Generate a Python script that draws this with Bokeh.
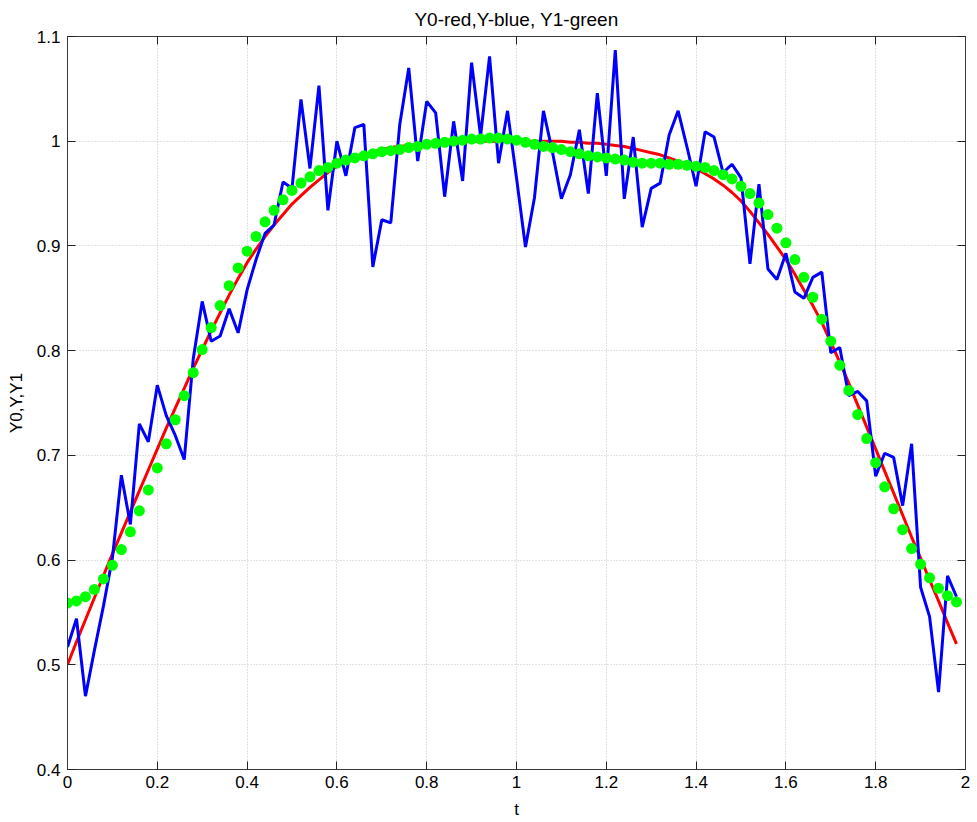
from bokeh.plotting import figure
from bokeh.models import Range1d, FixedTicker, LinearAxis
from bokeh.embed import file_html
from bokeh.resources import INLINE

t = [round(i * 0.02, 2) for i in range(100)]

Y0 = [0.500, 0.522, 0.543, 0.564, 0.585, 0.606, 0.626, 0.646, 0.666, 0.686,
      0.706, 0.726, 0.745, 0.764, 0.783, 0.801, 0.819, 0.836, 0.853, 0.869,
      0.884, 0.897, 0.909, 0.920, 0.930, 0.940, 0.948, 0.956, 0.963, 0.970,
      0.976, 0.980, 0.984, 0.987, 0.990, 0.992, 0.994, 0.995, 0.996, 0.997,
      0.998, 0.998, 0.999, 0.999, 0.999, 1.000, 1.000, 1.000, 1.000, 1.000,
      1.000, 1.000, 1.000, 1.000, 1.000, 1.000, 0.999, 0.999, 0.998, 0.998,
      0.997, 0.996, 0.995, 0.993, 0.991, 0.989, 0.987, 0.984, 0.981, 0.978,
      0.974, 0.969, 0.964, 0.958, 0.951, 0.943, 0.933, 0.922, 0.911, 0.899,
      0.887, 0.873, 0.858, 0.843, 0.827, 0.808, 0.789, 0.769, 0.748, 0.727,
      0.706, 0.685, 0.664, 0.643, 0.622, 0.602, 0.581, 0.561, 0.540, 0.520]

Y = [0.517, 0.544, 0.470, 0.514, 0.556, 0.602, 0.681, 0.634, 0.730, 0.713,
     0.767, 0.738, 0.719, 0.696, 0.792, 0.847, 0.809, 0.814, 0.840, 0.817,
     0.858, 0.887, 0.912, 0.920, 0.961, 0.955, 1.040, 0.974, 1.053, 0.934,
     1.000, 0.967, 1.013, 1.016, 0.880, 0.925, 0.922, 1.016, 1.070, 0.981,
     1.038, 1.027, 0.947, 1.019, 0.962, 1.075, 1.005, 1.081, 0.979, 1.029,
     0.965, 0.899, 0.946, 1.029, 0.990, 0.945, 0.968, 1.011, 0.950, 1.046,
     0.967, 1.087, 0.945, 1.004, 0.918, 0.955, 0.960, 1.006, 1.029, 0.994,
     0.957, 1.009, 1.004, 0.970, 0.978, 0.965, 0.883, 0.959, 0.878, 0.868,
     0.893, 0.856, 0.850, 0.870, 0.875, 0.798, 0.803, 0.757, 0.761, 0.752,
     0.680, 0.702, 0.698, 0.652, 0.711, 0.574, 0.546, 0.474, 0.585, 0.565]

Y1 = [0.559, 0.561, 0.565, 0.572, 0.582, 0.595, 0.610, 0.627, 0.647, 0.667,
      0.688, 0.711, 0.734, 0.757, 0.779, 0.801, 0.822, 0.843, 0.862, 0.879,
      0.895, 0.909, 0.923, 0.934, 0.944, 0.953, 0.960, 0.966, 0.972, 0.975,
      0.979, 0.982, 0.984, 0.986, 0.988, 0.990, 0.991, 0.992, 0.994, 0.995,
      0.997, 0.998, 0.999, 1.000, 1.001, 1.002, 1.002, 1.003, 1.003, 1.002,
      1.001, 0.999, 0.997, 0.995, 0.994, 0.992, 0.990, 0.988, 0.986, 0.985,
      0.984, 0.983, 0.982, 0.980, 0.979, 0.979, 0.979, 0.978, 0.978, 0.977,
      0.976, 0.975, 0.972, 0.968, 0.964, 0.957, 0.950, 0.941, 0.930, 0.917,
      0.903, 0.887, 0.870, 0.851, 0.830, 0.809, 0.786, 0.762, 0.739, 0.716,
      0.693, 0.670, 0.649, 0.629, 0.611, 0.596, 0.583, 0.573, 0.566, 0.560]

x_ticks = [0, 0.2, 0.4, 0.6, 0.8, 1, 1.2, 1.4, 1.6, 1.8, 2]
x_labels = ["0", "0.2", "0.4", "0.6", "0.8", "1", "1.2", "1.4", "1.6", "1.8", "2"]
y_ticks = [0.4, 0.5, 0.6, 0.7, 0.8, 0.9, 1.0, 1.1]
y_labels = ["0.4", "0.5", "0.6", "0.7", "0.8", "0.9", "1", "1.1"]

FONT = "Liberation Sans"
FRAME = "#3a3a3a"

p = figure(width=976, height=821, output_backend="svg", toolbar_location=None,
           x_range=Range1d(0, 2), y_range=Range1d(0.4, 1.1),
           title="Y0-red,Y-blue, Y1-green",
           min_border_left=67, min_border_right=11, min_border_top=35, min_border_bottom=48)
p.title.align = "center"
p.title.text_font = FONT
p.title.text_font_size = "19px"
p.title.text_font_style = "normal"
p.title.text_color = "black"
p.title.standoff = 13
p.background_fill_color = "white"
p.border_fill_color = "white"
p.outline_line_color = FRAME
p.outline_line_width = 1

for ax, ticks, labels in ((p.xaxis[0], x_ticks, x_labels), (p.yaxis[0], y_ticks, y_labels)):
    ax.ticker = FixedTicker(ticks=ticks)
    ax.major_label_overrides = {tk: lb for tk, lb in zip(ticks, labels)}
    ax.major_tick_in = 8
    ax.major_tick_out = 0
    ax.minor_tick_line_color = None
    ax.axis_line_color = FRAME
    ax.major_tick_line_color = "#222222"
    ax.major_label_text_font = FONT
    ax.major_label_text_font_size = "17px"
    ax.major_label_text_color = "black"
    ax.axis_label_text_font = FONT
    ax.axis_label_text_font_size = "17px"
    ax.axis_label_text_font_style = "normal"
    ax.axis_label_text_color = "black"

p.xaxis[0].axis_label = "t"
p.xaxis[0].major_label_standoff = 6
p.xaxis[0].axis_label_standoff = 9
p.yaxis[0].axis_label = "Y0,Y,Y1"
p.yaxis[0].major_label_standoff = 7
p.yaxis[0].axis_label_standoff = 8

top_ax = LinearAxis(ticker=FixedTicker(ticks=x_ticks), major_tick_in=8, major_tick_out=0,
                    minor_tick_line_color=None, major_label_text_font_size="1px",
                    major_label_overrides={tk: "" for tk in x_ticks},
                    major_label_standoff=0, axis_line_color=FRAME,
                    major_tick_line_color="#222222")
right_ax = LinearAxis(ticker=FixedTicker(ticks=y_ticks), major_tick_in=8, major_tick_out=0,
                      minor_tick_line_color=None, major_label_text_font_size="1px",
                      major_label_overrides={tk: "" for tk in y_ticks},
                      major_label_standoff=0, axis_line_color=FRAME,
                      major_tick_line_color="#222222")
p.add_layout(top_ax, "above")
p.add_layout(right_ax, "right")

p.xgrid.ticker = FixedTicker(ticks=x_ticks)
p.ygrid.ticker = FixedTicker(ticks=y_ticks)
for g in (p.xgrid[0], p.ygrid[0]):
    g.grid_line_color = "#c4c4c4"
    g.grid_line_dash = "1 2"
    g.grid_line_width = 1

p.line(t, Y0, line_color="#ff0000", line_width=3)
p.line(t, Y, line_color="#0000ff", line_width=3)
p.scatter(t, Y1, size=11, fill_color="#00ff00", line_color="#00ff00", line_width=0)

open("out.html", "w").write(file_html(p, INLINE))
